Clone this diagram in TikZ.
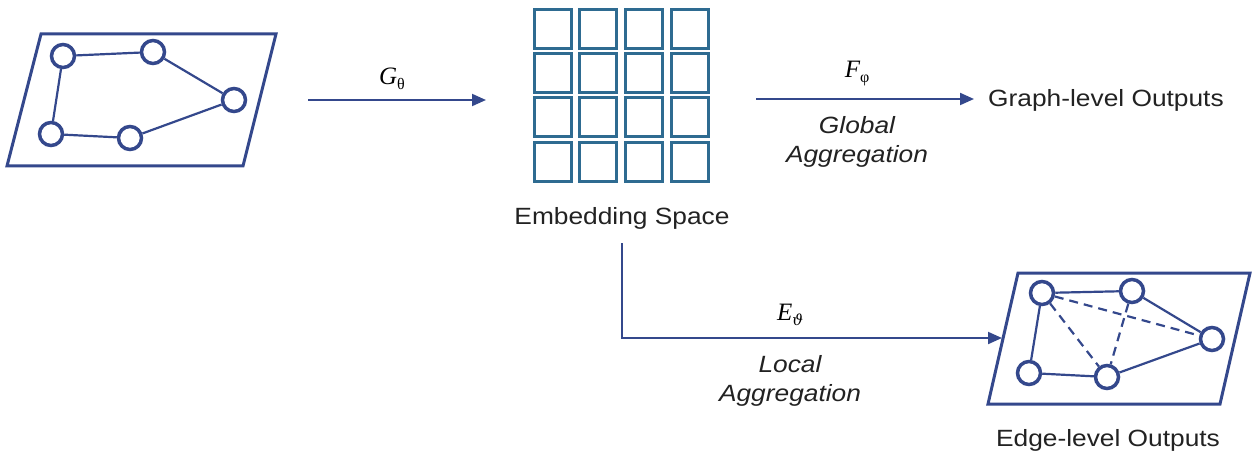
\documentclass[tikz,border=0pt]{standalone}
\usepackage{fontspec}
\setmainfont{Liberation Sans}[FakeStretch=1.12]
\newfontfamily\labserif{Liberation Serif}
\newfontfamily\greekserif{DejaVu Serif}
\usetikzlibrary{arrows.meta}
\definecolor{gblue}{RGB}{52,72,140}
\definecolor{tblue}{RGB}{46,107,145}
\definecolor{txt}{RGB}{34,34,34}
\newcommand{\symlab}[2]{{\labserif\fontsize{25}{28}\selectfont\itshape #1}\raisebox{-5pt}{\labserif\fontsize{16}{18}\selectfont #2}}
\newcommand{\symlabit}[2]{{\labserif\fontsize{25}{28}\selectfont\itshape #1}\raisebox{-5pt}{\greekserif\fontsize{15}{18}\selectfont\itshape #2}}
\begin{document}
\begin{tikzpicture}[x=1pt,y=-1pt,
  vtx/.style={circle, draw=gblue, line width=3.5pt, fill=white, minimum size=23pt, inner sep=0pt},
  gedge/.style={draw=gblue, line width=2.2pt},
  dedge/.style={gedge, dash pattern=on 9pt off 6pt},
  plane/.style={draw=gblue, line width=3pt, line join=miter},
  cell/.style={draw=tblue, line width=3pt, minimum width=37pt, minimum height=39pt, inner sep=0pt},
  arr/.style={draw=gblue, line width=2pt, -{Triangle[length=14pt,width=12pt]}},
  lbl/.style={text=txt, font=\fontsize{23.5}{29}\selectfont, inner sep=0pt},
  ilbl/.style={lbl, font=\fontsize{23.5}{29}\selectfont\itshape, align=center},
  mlbl/.style={text=black, inner sep=0pt}]
\useasboundingbox (0,0) rectangle (1252,457);

% left input graph
\draw[plane] (41,34) -- (276,34) -- (243,166) -- (7,166) -- cycle;
\node[vtx] (a1) at (63,56) {};
\node[vtx] (a2) at (153,52) {};
\node[vtx] (a3) at (234,100) {};
\node[vtx] (a4) at (51,134) {};
\node[vtx] (a5) at (130,138) {};
\draw[gedge] (a1) -- (a2) (a2) -- (a3) (a3) -- (a5) (a5) -- (a4) (a4) -- (a1);

% embedding grid
\foreach \i/\x in {1/553,2/598,3/644,4/690}{
  \foreach \j/\y in {1/29,2/73,3/117,4/162}{
    \node[cell] (c\i\j) at (\x,\y) {};
  }
}
\node[lbl] (embl) at (622,218) {Embedding Space};

% G arrow
\coordinate (gs) at (308,100);
\coordinate (ge) at (486,100);
\draw[arr] (gs) -- (ge);
\node[mlbl] (glab) at (392,79) {\symlab{G}{θ}};

% F arrow
\node[lbl, anchor=west] (gout) at (988,100) {Graph-level Outputs};
\coordinate (fs) at (756,99);
\draw[arr] (fs) -- ([xshift=-14pt]gout.west |- fs);
\node[mlbl] (flab) at (857,74) {\symlab{F}{φ}};
\node[ilbl] (glob) at (857,142) {Global\\Aggregation};

% right output graph
\draw[plane] (1018,273) -- (1250,273) -- (1220,404) -- (988,404) -- cycle;
\node[vtx] (b1) at (1042,293) {};
\node[vtx] (b2) at (1132,291) {};
\node[vtx] (b3) at (1212,339) {};
\node[vtx] (b4) at (1029,373) {};
\node[vtx] (b5) at (1107,377) {};
\draw[gedge] (b1) -- (b2) (b2) -- (b3) (b3) -- (b5) (b5) -- (b4) (b4) -- (b1);
\draw[dedge] (b1) -- (b3) (b1) -- (b5) (b2) -- (b5);
\node[lbl] (eout) at (1108,440) {Edge-level Outputs};

% E arrow
\coordinate (es) at (622,243);
\coordinate (ee) at (1002,338);
\draw[arr] (es) |- (ee);
\node[mlbl] (elab) at (790,315) {\symlabit{E}{ϑ}};
\node[ilbl] (loc) at (790,381) {Local\\Aggregation};
\end{tikzpicture}
\end{document}
